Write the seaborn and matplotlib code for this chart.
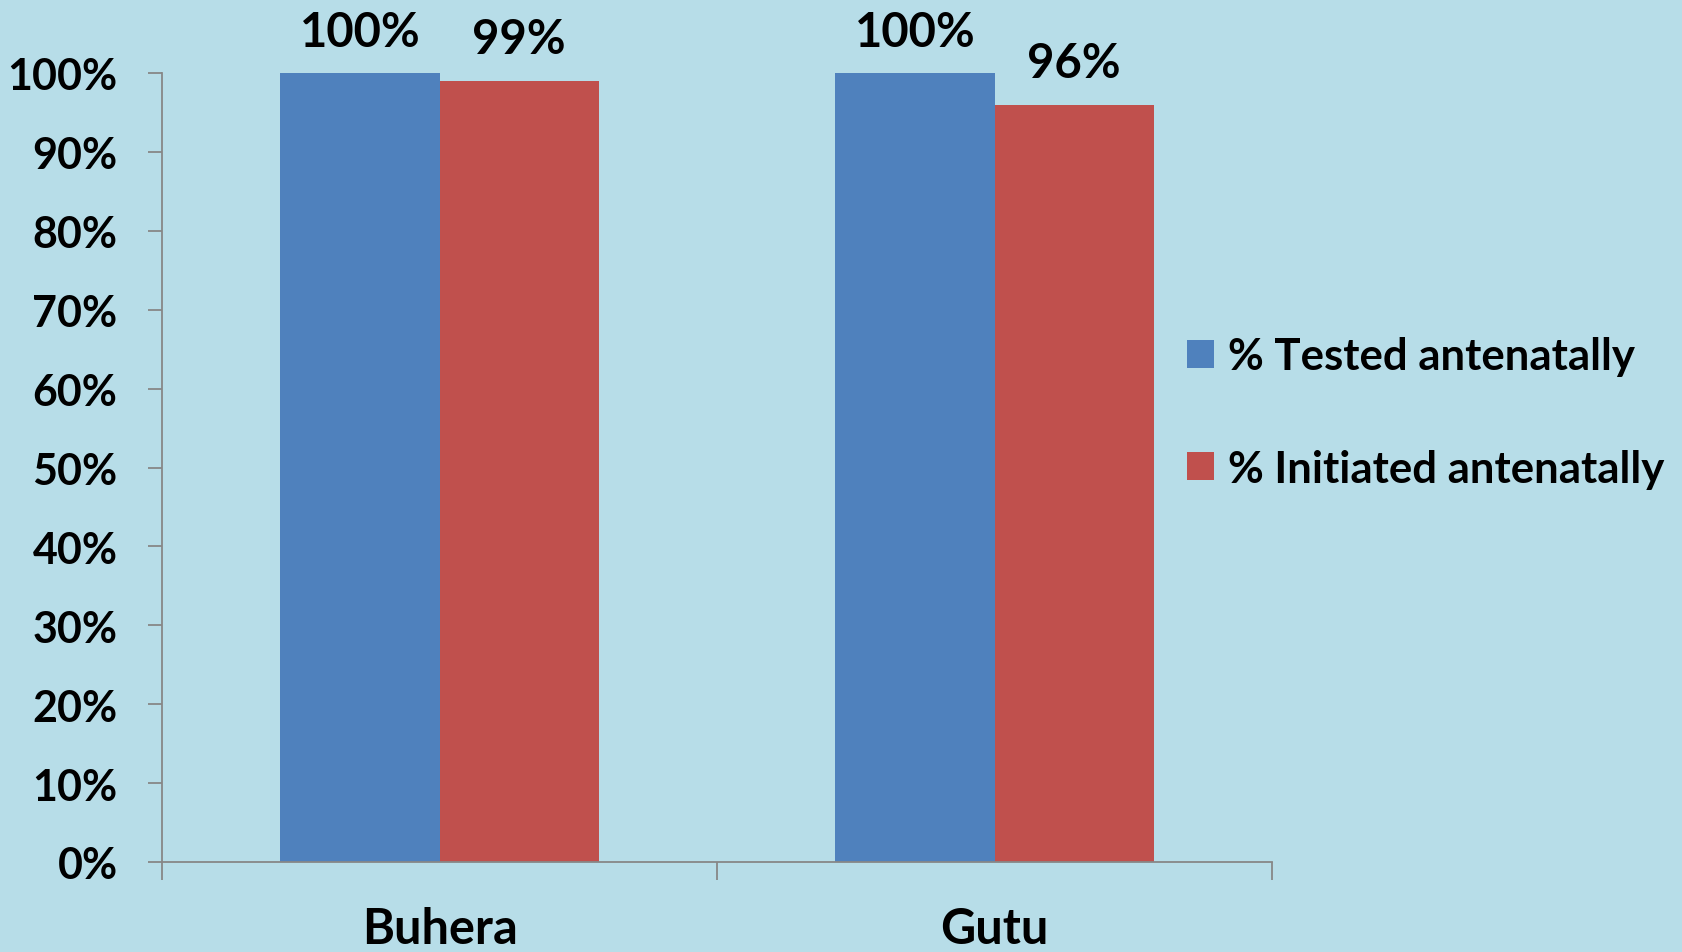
import matplotlib
matplotlib.use("Agg")
import matplotlib.pyplot as plt
from matplotlib.patches import Patch
from matplotlib.ticker import FixedLocator, PercentFormatter
import seaborn as sns
import pandas as pd

categories = ["Buhera", "Gutu"]
series_names = ["% Tested antenatally", "% Initiated antenatally"]
tested = [100, 100]
initiated = [99, 96]
label_tested = ["100%", "100%"]
label_initiated = ["99%", "96%"]
yticks = [0, 10, 20, 30, 40, 50, 60, 70, 80, 90, 100]

BG = "#B7DDE8"
BLUE = "#4F81BD"
RED = "#C0504D"
FONT = ["Lato", "DejaVu Sans"]

sns.set_style("white")
plt.rcParams["font.family"] = FONT
plt.rcParams["font.weight"] = "bold"
plt.rcParams["text.color"] = "black"
plt.rcParams["xtick.color"] = "black"
plt.rcParams["ytick.color"] = "black"

df = pd.DataFrame({
    "district": categories * 2,
    "series": [series_names[0]] * 2 + [series_names[1]] * 2,
    "value": tested + initiated,
})

fig = plt.figure(figsize=(16.83, 9.53), dpi=100, facecolor=BG)
ax = fig.add_axes([162 / 1683, 90 / 953, 1110 / 1683, 789 / 953])
ax.set_facecolor(BG)

sns.barplot(data=df, x="district", y="value", hue="series",
            palette=[BLUE, RED], width=0.573, saturation=1,
            linewidth=0, ax=ax, legend=False)

ax.set_ylim(0, 100)
ax.set_xlim(-0.5, 1.5)
ax.set_yticks(yticks)
ax.yaxis.set_major_formatter(PercentFormatter(decimals=0))
ax.set_xlabel("")
ax.set_ylabel("")

for s in ["top", "right"]:
    ax.spines[s].set_visible(False)
for s in ["left", "bottom"]:
    ax.spines[s].set_color("#878787")
    ax.spines[s].set_linewidth(1.3)

ax.tick_params(axis="y", direction="out", length=10, width=1.3, color="#878787",
               labelcolor="black", pad=22, labelsize=31, left=True)
ax.tick_params(axis="x", which="major", length=0, pad=32, labelsize=35,
               labelcolor="black")
ax.xaxis.set_minor_locator(FixedLocator([-0.5, 0.5, 1.5]))
ax.tick_params(axis="x", which="minor", direction="out", length=13, width=1.3,
               color="#878787", bottom=True)
for lab in ax.get_xticklabels() + ax.get_yticklabels():
    lab.set_fontweight("bold")
    lab.set_color("black")

labels = label_tested + label_initiated
for patch, txt in zip(ax.patches, labels):
    cx = patch.get_x() + patch.get_width() / 2
    top = patch.get_height()
    ax.annotate(txt, (cx, top), xytext=(0, 14), textcoords="offset points",
                ha="center", va="bottom", fontsize=34, fontweight="bold",
                color="black", annotation_clip=False)

handles = [Patch(facecolor=BLUE, edgecolor="none"), Patch(facecolor=RED, edgecolor="none")]
leg = fig.legend(handles, series_names, loc="center left",
                 bbox_to_anchor=(1187 / 1683, 1 - 413.5 / 953),
                 frameon=False, prop={"weight": "bold", "size": 31.5, "family": FONT},
                 handlelength=0.62, handleheight=0.62, handletextpad=0.32,
                 labelspacing=1.65, borderpad=0, borderaxespad=0)
for t in leg.get_texts():
    t.set_color("black")

fig.savefig("out.png", dpi=100, facecolor=BG)
